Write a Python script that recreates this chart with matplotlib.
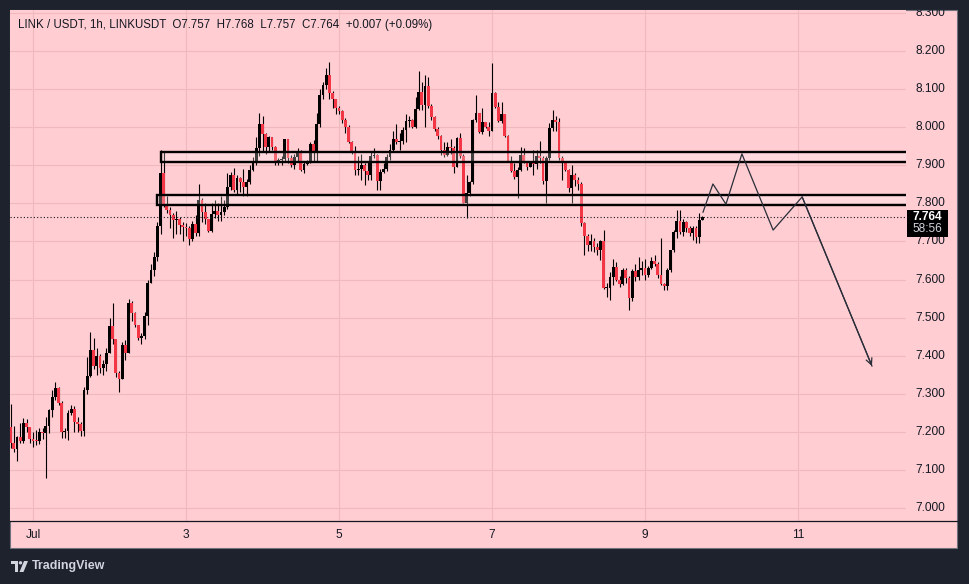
import matplotlib
matplotlib.use('Agg')
import matplotlib.pyplot as plt
from matplotlib.patches import Rectangle, Polygon, Circle
from matplotlib.transforms import IdentityTransform
import numpy as np

# ---------------- data ----------------
first_hour = -7          # hours relative to Jul 1 00:00
first_open = 7.214
closes = [
    7.170, 7.156, 7.187, 7.177, 7.223, 7.214, 7.181, 7.177, 7.175, 7.200,
    7.198, 7.215, 7.258, 7.292, 7.315, 7.277, 7.200, 7.203, 7.250, 7.260,
    7.225, 7.222, 7.203, 7.310, 7.347, 7.415, 7.373, 7.400, 7.368, 7.378,
    7.408, 7.478, 7.443, 7.355, 7.340, 7.428, 7.408, 7.538, 7.512, 7.480,
    7.446, 7.452, 7.505, 7.590, 7.625, 7.660, 7.740, 7.880, 7.796, 7.783,
    7.770, 7.757, 7.760, 7.743, 7.739, 7.735, 7.706, 7.746, 7.723, 7.810,
    7.778, 7.760, 7.728, 7.772, 7.780, 7.770, 7.778, 7.790, 7.844, 7.875,
    7.834, 7.867, 7.855, 7.843, 7.855, 7.888, 7.910, 7.945, 8.009, 7.982,
    7.947, 7.974, 7.949, 7.912, 7.915, 7.916, 7.969, 7.918, 7.900, 7.921,
    7.935, 7.888, 7.903, 7.910, 7.955, 7.937, 8.009, 8.085, 8.110, 8.137,
    8.089, 8.073, 8.050, 8.043, 8.019, 8.001, 7.962, 7.936, 7.888, 7.890,
    7.900, 7.885, 7.875, 7.924, 7.928, 7.860, 7.883, 7.890, 7.921, 7.940,
    7.969, 7.960, 7.965, 7.993, 8.017, 8.020, 8.001, 8.047, 8.093, 8.058,
    8.107, 8.056, 8.028, 7.995, 7.977, 7.940, 7.927, 7.949, 7.945, 7.896,
    7.971, 7.925, 7.800, 7.827, 7.857, 8.019, 8.037, 7.988, 8.015, 8.001,
    7.990, 8.091, 8.052, 8.017, 8.035, 7.977, 7.912, 7.886, 7.869, 7.888,
    7.927, 7.907, 7.895, 7.905, 7.903, 7.925, 7.920, 7.860, 7.920, 7.997,
    8.019, 8.013, 7.918, 7.905, 7.888, 7.840, 7.875, 7.862, 7.850, 7.748,
    7.714, 7.690, 7.701, 7.686, 7.678, 7.700, 7.577, 7.578, 7.607, 7.634,
    7.600, 7.588, 7.625, 7.605, 7.551, 7.623, 7.606, 7.625, 7.630, 7.612,
    7.630, 7.650, 7.640, 7.612, 7.588, 7.583, 7.625, 7.677, 7.726, 7.755,
    7.726, 7.750, 7.735, 7.722, 7.735, 7.711, 7.757, 7.764]
highs = [
    7.272, 7.215, 7.190, 7.224, 7.237, 7.234, 7.214, 7.200, 7.205, 7.210,
    7.210, 7.240, 7.260, 7.310, 7.330, 7.318, 7.280, 7.210, 7.258, 7.270,
    7.268, 7.240, 7.225, 7.318, 7.397, 7.463, 7.446, 7.420, 7.405, 7.390,
    7.420, 7.500, 7.538, 7.445, 7.360, 7.435, 7.440, 7.548, 7.545, 7.515,
    7.480, 7.460, 7.515, 7.600, 7.640, 7.672, 7.750, 7.940, 7.935, 7.820,
    7.790, 7.775, 7.780, 7.765, 7.750, 7.748, 7.740, 7.755, 7.770, 7.850,
    7.815, 7.800, 7.760, 7.800, 7.810, 7.800, 7.820, 7.810, 7.880, 7.882,
    7.892, 7.875, 7.870, 7.890, 7.865, 7.900, 7.923, 7.974, 8.037, 8.030,
    7.985, 7.978, 7.975, 7.950, 7.920, 7.925, 7.970, 7.969, 7.928, 7.930,
    7.945, 7.940, 7.910, 7.915, 7.960, 7.967, 8.037, 8.100, 8.120, 8.155,
    8.172, 8.095, 8.075, 8.055, 8.045, 8.025, 8.005, 7.965, 7.952, 7.925,
    7.930, 7.905, 7.910, 7.935, 7.945, 7.930, 7.890, 7.905, 7.930, 7.955,
    7.990, 8.009, 7.985, 8.000, 8.036, 8.030, 8.022, 8.080, 8.148, 8.120,
    8.137, 8.133, 8.060, 8.030, 8.000, 7.980, 7.960, 7.960, 7.970, 7.950,
    7.975, 7.985, 7.930, 7.875, 7.860, 8.022, 8.085, 8.037, 8.050, 8.015,
    8.015, 8.168, 8.092, 8.065, 8.065, 8.035, 7.980, 7.925, 7.905, 7.895,
    7.948, 7.945, 7.910, 7.910, 7.940, 7.940, 7.965, 7.925, 7.925, 8.010,
    8.045, 8.030, 8.025, 7.925, 7.910, 7.890, 7.900, 7.880, 7.870, 7.855,
    7.750, 7.720, 7.720, 7.710, 7.695, 7.705, 7.730, 7.590, 7.620, 7.655,
    7.645, 7.610, 7.630, 7.630, 7.610, 7.628, 7.640, 7.660, 7.650, 7.655,
    7.635, 7.660, 7.665, 7.645, 7.708, 7.590, 7.630, 7.678, 7.730, 7.783,
    7.783, 7.760, 7.755, 7.740, 7.740, 7.740, 7.776, 7.768]
lows = [
    7.158, 7.146, 7.124, 7.172, 7.170, 7.200, 7.170, 7.160, 7.165, 7.168,
    7.180, 7.078, 7.198, 7.240, 7.285, 7.270, 7.185, 7.185, 7.178, 7.245,
    7.200, 7.200, 7.190, 7.188, 7.300, 7.345, 7.366, 7.350, 7.355, 7.350,
    7.360, 7.408, 7.430, 7.345, 7.306, 7.340, 7.390, 7.408, 7.490, 7.475,
    7.440, 7.430, 7.445, 7.480, 7.590, 7.610, 7.650, 7.720, 7.790, 7.775,
    7.735, 7.710, 7.720, 7.720, 7.700, 7.715, 7.690, 7.700, 7.715, 7.715,
    7.752, 7.745, 7.725, 7.725, 7.762, 7.755, 7.755, 7.770, 7.785, 7.835,
    7.830, 7.823, 7.830, 7.820, 7.820, 7.850, 7.885, 7.900, 7.925, 7.935,
    7.930, 7.935, 7.940, 7.900, 7.900, 7.900, 7.910, 7.905, 7.895, 7.890,
    7.910, 7.885, 7.880, 7.900, 7.905, 7.910, 7.910, 8.000, 8.075, 8.100,
    8.075, 8.050, 8.035, 8.035, 8.010, 7.985, 7.958, 7.930, 7.875, 7.875,
    7.862, 7.848, 7.862, 7.862, 7.920, 7.835, 7.835, 7.880, 7.886, 7.915,
    7.935, 7.955, 7.940, 7.955, 7.960, 8.000, 7.998, 7.998, 8.045, 8.045,
    8.000, 8.050, 8.020, 7.990, 7.968, 7.928, 7.922, 7.925, 7.930, 7.880,
    7.895, 7.920, 7.800, 7.761, 7.820, 7.850, 8.015, 7.985, 7.983, 7.998,
    7.976, 7.990, 8.050, 8.015, 8.010, 7.975, 7.908, 7.883, 7.865, 7.813,
    7.885, 7.905, 7.888, 7.895, 7.875, 7.890, 7.905, 7.852, 7.800, 7.915,
    7.990, 7.990, 7.915, 7.862, 7.885, 7.830, 7.800, 7.845, 7.835, 7.740,
    7.665, 7.675, 7.675, 7.672, 7.665, 7.652, 7.575, 7.555, 7.546, 7.585,
    7.595, 7.580, 7.585, 7.590, 7.520, 7.545, 7.595, 7.600, 7.612, 7.600,
    7.607, 7.628, 7.636, 7.603, 7.585, 7.573, 7.573, 7.620, 7.672, 7.710,
    7.720, 7.715, 7.725, 7.715, 7.705, 7.695, 7.695, 7.757]

price_ticks = [7.0, 7.1, 7.2, 7.3, 7.4, 7.5, 7.6, 7.7, 7.8, 7.9, 8.0, 8.1, 8.2, 8.3]
date_tick_hours = [0, 48, 96, 144, 192, 240]
date_tick_labels = ['Jul', '3', '5', '7', '9', '11']

# zones (price bottom, price top, start hour)
zone_upper = (7.9095, 7.9360, 40.2)
zone_lower = (7.7960, 7.8220, 39.0)
last_price = 7.764
countdown = '58:56'
# projected path (hour, price)
path_hours = [210.2, 213.3, 217.4, 222.4, 232.2, 241.3, 263.2]
path_prices = [7.777, 7.851, 7.798, 7.930, 7.730, 7.817, 7.373]

title = 'LINK / USDT, 1h, LINKUSDT  O7.757  H7.768  L7.757  C7.764  +0.007 (+0.09%)'

# ---------------- figure ----------------
plt.rcParams['font.family'] = ['Liberation Sans', 'DejaVu Sans']
W, H = 969, 584
fig = plt.figure(figsize=(W / 100, H / 100), dpi=100)
fig.patch.set_facecolor('#1e222d')

def fx(px):
    return px / W

def fy(py):
    return 1 - py / H

def py2price(py):
    return 8.3 - (py - 13) / 380.8

PINK = '#ffcdd2'
GRID = '#efb9be'
DARK = '#131722'
RED = '#f23645'

fig.add_artist(Rectangle((fx(10), fy(548)), fx(957) - fx(10), fy(10) - fy(548),
                         transform=fig.transFigure, facecolor=PINK,
                         edgecolor='#70737e', lw=0.8, zorder=0))

ylo, yhi = py2price(521), py2price(10)
xlo, xhi = (10 - 33) / 3.1875, (906 - 33) / 3.1875

ax = fig.add_axes([fx(10), fy(521), fx(906) - fx(10), fy(10) - fy(521)])
ax.set_facecolor(PINK)
ax.set_xlim(xlo, xhi)
ax.set_ylim(ylo, yhi)
for s in ax.spines.values():
    s.set_visible(False)
ax.set_xticks([])
ax.set_yticks([])

for p in price_ticks:
    ax.axhline(p, color=GRID, lw=0.8, zorder=0)
for h in date_tick_hours:
    ax.axvline(h, color=GRID, lw=0.8, zorder=0)

n = len(closes)
hours = np.arange(n) + first_hour
opens = [first_open] + closes[:-1]
o = np.array(opens)
c = np.array(closes)
hi = np.maximum(np.array(highs), np.maximum(o, c))
lo = np.minimum(np.array(lows), np.minimum(o, c))
up = c >= o
colors = np.where(up, '#000000', RED)
bottoms = np.minimum(o, c)
heights = np.maximum(np.abs(c - o), 0.0027)

ax.vlines(hours, lo, hi, color='#000000', lw=0.8, zorder=2)
ax.bar(hours, heights, bottom=bottoms, width=0.9, color=colors, linewidth=0, zorder=3)

for (pb, pt, h0) in (zone_upper, zone_lower):
    ax.add_patch(Rectangle((h0, pb), 400, pt - pb, facecolor=(1, 1, 1, 0.25),
                           edgecolor='#000000', lw=1.7, zorder=4))

ax.axhline(last_price, color=DARK, lw=0.8, linestyle=(0, (1, 2)), zorder=4)

ax.plot(path_hours, path_prices, color='#2a2e39', lw=0.9, zorder=5)
ax.annotate('', xy=(path_hours[-1], path_prices[-1]),
            xytext=(path_hours[-2], path_prices[-2]),
            arrowprops=dict(arrowstyle='->,head_length=0.45,head_width=0.22',
                            color='#2a2e39', lw=0.9, shrinkA=0, shrinkB=0),
            zorder=5)

ax.text(fx(18 - 10) / (fx(906) - fx(10)), 1 - 15 / 511, title, transform=ax.transAxes,
        fontsize=8.3, color=DARK, va='center', ha='left', zorder=6)

# price scale
ax2 = fig.add_axes([fx(906), fy(521), fx(957) - fx(906), fy(10) - fy(521)])
ax2.set_xlim(0, 1)
ax2.set_ylim(ylo, yhi)
ax2.axis('off')
ax2.patch.set_alpha(0)
for p in price_ticks:
    ax2.text(24 / 51, p, f'{p:.3f}', fontsize=8.6, color=DARK, ha='center', va='center',
             clip_on=True)
box_top = py2price(209.5)
box_bot = py2price(236.5)
ax2.add_patch(Rectangle((1 / 51, box_bot), 41 / 51, box_top - box_bot,
                        facecolor='#000000', edgecolor='none', zorder=5))
ax2.text(21.5 / 51, last_price, f'{last_price:.3f}', fontsize=8.6, color='white',
         fontweight='bold', ha='center', va='center', zorder=6)
ax2.text(21.5 / 51, py2price(228.5), countdown, fontsize=8.6, color='#d1d4dc',
         ha='center', va='center', zorder=6)

# time axis
fig.add_artist(plt.Line2D([fx(10), fx(957)], [fy(521), fy(521)], transform=fig.transFigure,
                          color=DARK, lw=0.9))
for h, lab in zip(date_tick_hours, date_tick_labels):
    xp = 33 + h * 3.1875
    fig.text(fx(xp), fy(535), lab, fontsize=8.6, color=DARK, ha='center', va='center')

# TradingView logo
tr = IdentityTransform()
def P(px, py):
    return (px, H - py)
fig.add_artist(Polygon([P(11, 561), P(18, 561), P(18, 572), P(15, 572), P(15, 564), P(11, 564)],
                       closed=True, transform=tr, facecolor='#d1d4dc', edgecolor='none'))
fig.add_artist(Circle(P(20.5, 562.8), 1.7, transform=tr, facecolor='#d1d4dc', edgecolor='none'))
fig.add_artist(Polygon([P(24, 561), P(28, 561), P(23.5, 572), P(19.5, 572)],
                       closed=True, transform=tr, facecolor='#d1d4dc', edgecolor='none'))
fig.text(fx(32), fy(566.5), 'TradingView', fontsize=9, color='#d1d4dc', ha='left',
         va='center', fontweight='bold')

fig.savefig('out.png', dpi=100, facecolor=fig.get_facecolor())
